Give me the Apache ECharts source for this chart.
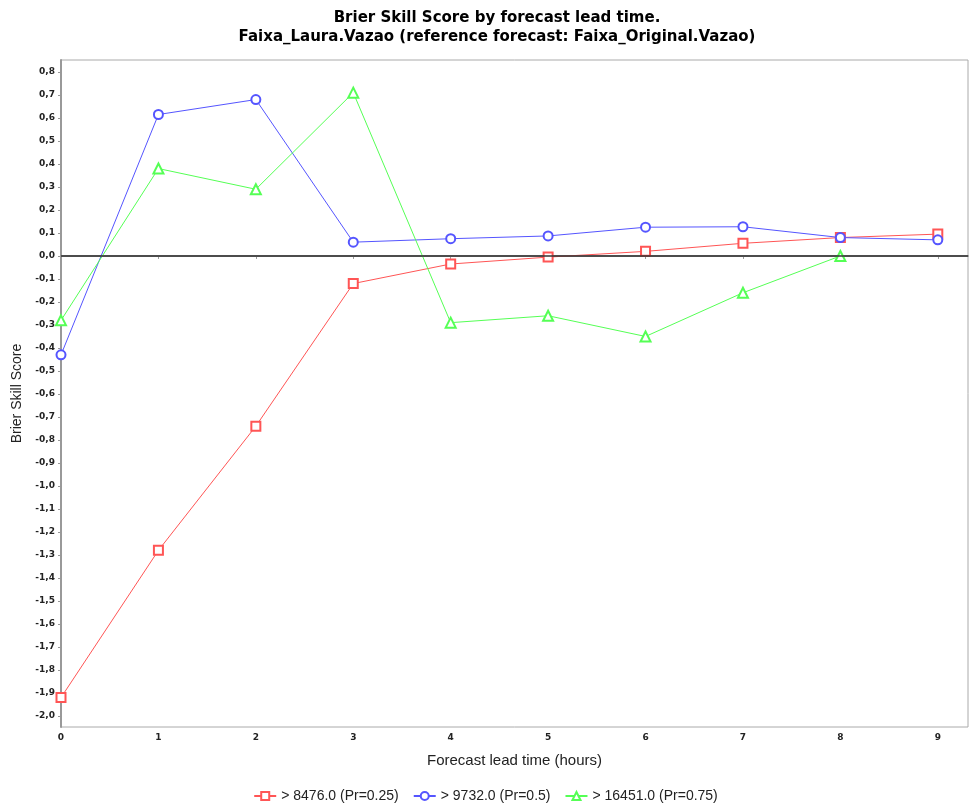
<!DOCTYPE html>
<html>
<head>
<meta charset="utf-8">
<script src="https://cdn.jsdelivr.net/npm/echarts@6/dist/echarts.min.js"></script>
<style>html,body{margin:0;padding:0;background:#fff;}#c{width:971px;height:804px;}</style>
</head>
<body>
<div id="c"></div>
<script>
var leadTimes = [0, 1, 2, 3, 4, 5, 6, 7, 8, 9];
var xTicks = [0, 1, 2, 3, 4, 5, 6, 7, 8, 9];
var yTicks = [-2.0,-1.9,-1.8,-1.7,-1.6,-1.5,-1.4,-1.3,-1.2,-1.1,-1.0,-0.9,-0.8,-0.7,-0.6,-0.5,-0.4,-0.3,-0.2,-0.1,0.0,0.1,0.2,0.3,0.4,0.5,0.6,0.7,0.8];
var seriesNames = ['> 8476.0 (Pr=0.25)', '> 9732.0 (Pr=0.5)', '> 16451.0 (Pr=0.75)'];
var redValues = [-1.92, -1.28, -0.74, -0.12, -0.035, -0.005, 0.02, 0.055, 0.08, 0.095];
var blueValues = [-0.43, 0.615, 0.68, 0.06, 0.075, 0.087, 0.125, 0.127, 0.08, 0.07];
var greenValues = [-0.28, 0.38, 0.29, 0.71, -0.29, -0.26, -0.35, -0.16, 0.0];

function pairs(vals) { return vals.map(function (v, i) { return [leadTimes[i], v]; }); }

var chart = echarts.init(document.getElementById('c'));
var tickFont = { fontFamily: 'DejaVu Sans', fontSize: 9, fontWeight: 'bold', color: '#222' };
function mk(name, vals, color, symbol, size) {
  return {
    name: name, type: 'line', data: pairs(vals), symbol: symbol, symbolSize: size,
    showAllSymbol: true, animation: false,
    lineStyle: { color: color, width: 1 }, itemStyle: { color: color, borderWidth: 1 }
  };
}
var s0 = mk(seriesNames[0], redValues, '#FF5555', 'emptyRect', 9);
s0.markLine = { silent: true, symbol: 'none', label: { show: false },
  lineStyle: { color: '#333', width: 1.5, type: 'solid' }, data: [{ yAxis: 0 }], animation: false };
s0.z = 3;
chart.setOption({
  animation: false,
  backgroundColor: '#fff',
  title: {
    text: 'Brier Skill Score by forecast lead time.\nFaixa_Laura.Vazao (reference forecast: Faixa_Original.Vazao)',
    left: 492, top: 4, textAlign: 'center',
    textStyle: { fontFamily: 'DejaVu Sans', fontSize: 15, fontWeight: 'bold', color: '#000', lineHeight: 19 }
  },
  grid: { left: 61, right: 3, top: 60, bottom: 77, show: true, borderColor: '#aaa', borderWidth: 1,
    containLabel: false, outerBoundsMode: 'none' },
  xAxis: {
    type: 'value', min: 0, max: 9.31,
    name: 'Forecast lead time (hours)', nameLocation: 'middle', nameGap: 26,
    nameTextStyle: { fontFamily: 'Liberation Sans', fontSize: 15, color: '#222' },
    axisLine: { lineStyle: { color: '#999', width: 2 } },
    axisTick: { show: true, length: 3, customValues: xTicks, lineStyle: { color: '#999' } },
    axisLabel: Object.assign({ customValues: xTicks, margin: 6, formatter: function (v) { return String(v); } }, tickFont),
    splitLine: { show: false }
  },
  yAxis: {
    type: 'value', min: -2.048, max: 0.852,
    name: 'Brier Skill Score', nameLocation: 'middle', nameGap: 37, nameRotate: 90,
    nameTextStyle: { fontFamily: 'Liberation Sans', fontSize: 14, color: '#222' },
    axisLine: { show: true, lineStyle: { color: '#999', width: 2 } },
    axisTick: { show: true, length: 3, customValues: yTicks, lineStyle: { color: '#999' } },
    axisLabel: Object.assign({ customValues: yTicks, margin: 6,
      formatter: function (v) { return v.toFixed(1).replace('.', ',').replace('-0,0', '0,0'); } }, tickFont),
    splitLine: { show: false }
  },
  legend: {
    top: 784, left: 'center', itemWidth: 22, itemHeight: 10, itemGap: 14,
    textStyle: { fontFamily: 'Liberation Sans', fontSize: 14, color: '#222' },
    data: seriesNames
  },
  series: [
    s0,
    mk(seriesNames[1], blueValues, '#5555FF', 'emptyCircle', 9),
    mk(seriesNames[2], greenValues, '#55FF55', 'emptyTriangle', 10)
  ]
});
</script>
</body>
</html>
